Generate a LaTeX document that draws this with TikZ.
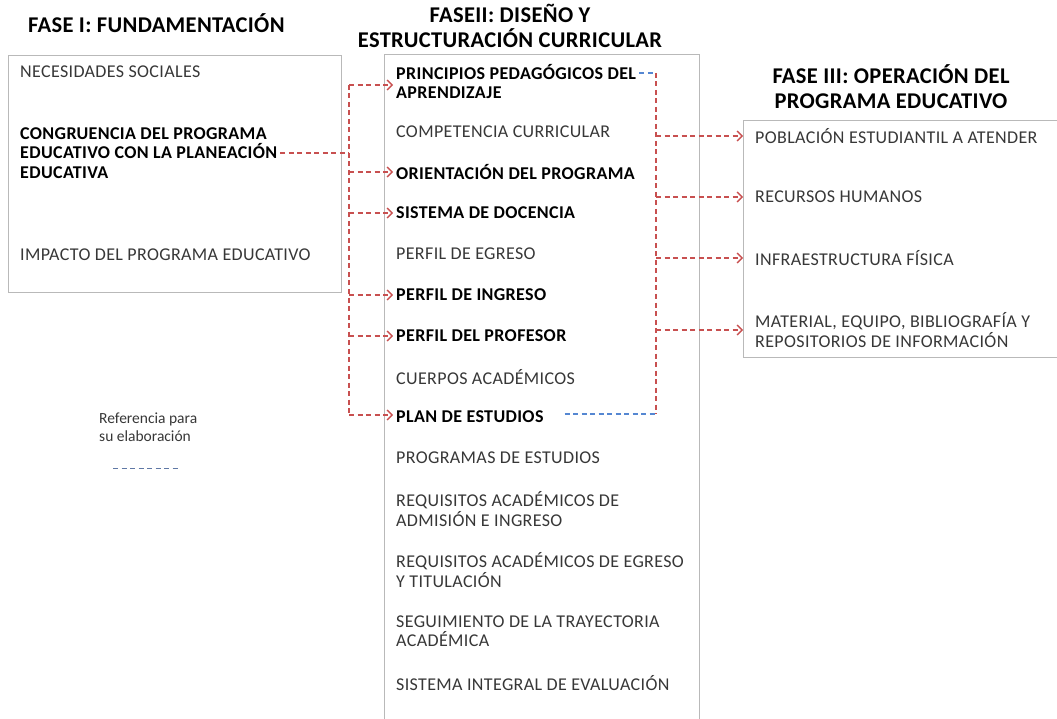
\documentclass[tikz,border=0pt]{standalone}
\usepackage{fontspec}
\setmainfont{Carlito}
\newfontfamily\itemfont[LetterSpace=2]{Carlito}
\newfontfamily\titlefont[LetterSpace=1.5]{Carlito}
\usetikzlibrary{arrows.meta}

\definecolor{linkred}{RGB}{200,80,80}
\definecolor{linkblue}{RGB}{85,135,210}
\definecolor{keyblue}{RGB}{95,120,165}
\definecolor{boxgray}{RGB}{185,185,185}
\definecolor{itemgray}{RGB}{55,55,55}

\begin{document}
\begin{tikzpicture}[x=1pt, y=-1pt,
    fasetitle/.style={font=\titlefont\fontsize{22.5}{25}\selectfont\bfseries, align=center, inner sep=0pt},
    item/.style={anchor=west, align=left, inner sep=3pt, text=itemgray, font=\itemfont\fontsize{18}{19.5}\selectfont},
    itembold/.style={item, text=black, font=\itemfont\fontsize{18}{19.5}\selectfont\bfseries},
    box/.style={draw=boxgray, line width=0.9pt, inner sep=0pt},
    redlink/.style={draw=linkred, line width=1.3pt, dash pattern=on 5pt off 3.5pt},
    redarrow/.style={redlink, -{Straight Barb[length=5pt, width=10pt]}},
    bluelink/.style={draw=linkblue, line width=1.3pt, dash pattern=on 5pt off 3.5pt}]
  \useasboundingbox (0,0) rectangle (1057,719);

  % titles
  \node[fasetitle, anchor=west] (fase1) at (28,23) {FASE I: FUNDAMENTACIÓN};
  \node[fasetitle] (fase2) at (510,26) {FASEII: DISEÑO Y\\ESTRUCTURACIÓN CURRICULAR};
  \node[fasetitle] (fase3) at (891,87) {FASE III: OPERACIÓN DEL\\PROGRAMA EDUCATIVO};

  % boxes
  \node[box, anchor=north west, minimum width=333pt, minimum height=237pt] (lbox) at (8,55) {};
  \draw[box] (384,719) |- (699,54) -- (699,719);
  \node[box, anchor=north west, minimum width=313.5pt, minimum height=237pt] (rbox) at (743,120) {};

  % fase I
  \node[item] (nec) at (17,72) {NECESIDADES SOCIALES};
  \node[itembold] (cong) at (17,153) {CONGRUENCIA DEL PROGRAMA\\EDUCATIVO CON LA PLANEACIÓN\\EDUCATIVA};
  \node[item] (imp) at (17,255) {IMPACTO DEL PROGRAMA EDUCATIVO};

  % fase II
  \node[itembold] (ppa) at (393,81.5) {PRINCIPIOS PEDAGÓGICOS DEL\\APRENDIZAJE};
  \node[item] (comp) at (393,132) {COMPETENCIA CURRICULAR};
  \node[itembold] (orient) at (393,172) {ORIENTACIÓN DEL PROGRAMA};
  \node[itembold] (sisdoc) at (393,213) {SISTEMA DE DOCENCIA};
  \node[item] (pegr) at (393,254) {PERFIL DE EGRESO};
  \node[itembold] (ping) at (393,295) {PERFIL DE INGRESO};
  \node[itembold] (pprof) at (393,336) {PERFIL DEL PROFESOR};
  \node[item] (cuerp) at (393,377) {CUERPOS ACADÉMICOS};
  \node[itembold] (plan) at (393,417) {PLAN DE ESTUDIOS};
  \node[item] (progs) at (393,458) {PROGRAMAS DE ESTUDIOS};
  \node[item] (reqadm) at (393,509) {REQUISITOS ACADÉMICOS DE\\ADMISIÓN E INGRESO};
  \node[item] (reqegr) at (393,570) {REQUISITOS ACADÉMICOS DE EGRESO\\Y TITULACIÓN};
  \node[item] (seg) at (393,631) {SEGUIMIENTO DE LA TRAYECTORIA\\ACADÉMICA};
  \node[item] (sie) at (393,683) {SISTEMA INTEGRAL DE EVALUACIÓN};

  % fase III
  \node[item] (pob) at (752,136) {POBLACIÓN ESTUDIANTIL A ATENDER};
  \node[item] (rh) at (752,197) {RECURSOS HUMANOS};
  \node[item] (infra) at (752,258) {INFRAESTRUCTURA FÍSICA};
  \node[item] (mat) at (752,330) {MATERIAL, EQUIPO, BIBLIOGRAFÍA Y\\REPOSITORIOS DE INFORMACIÓN};

  % fase I -> fase II
  \coordinate (ltop) at (349,85);
  \coordinate (lbot) at (349,415);
  \draw[redlink] (cong.east) -- (ltop |- cong.east);
  \draw[redlink] (ltop) -- (lbot);
  \draw[redarrow] (ltop) -- (ltop -| ppa.west);
  \draw[redarrow] (ltop |- orient) -- (orient.west);
  \draw[redarrow] (ltop |- sisdoc) -- (sisdoc.west);
  \draw[redarrow] (ltop |- ping) -- (ping.west);
  \draw[redarrow] (ltop |- pprof) -- (pprof.west);
  \draw[redarrow] (lbot) -- (lbot -| plan.west);

  % fase II -> fase III
  \coordinate (rtop) at (656,73);
  \coordinate (rbot) at (656,414);
  \draw[bluelink] (rtop -| ppa.east) -- (rtop);
  \draw[bluelink] ([xshift=18pt]rbot -| plan.east) -- (rbot);
  \draw[redlink] (rtop) -- (rbot);
  \draw[redarrow] (rtop |- pob) -- (rbox.west |- pob);
  \draw[redarrow] (rtop |- rh) -- (rbox.west |- rh);
  \draw[redarrow] (rtop |- infra) -- (rbox.west |- infra);
  \draw[redarrow] (rtop |- mat) -- (rbox.west |- mat);

  % key
  \node[anchor=north west, align=left, inner sep=0pt, text=itemgray, font=\fontsize{15.5}{18}\selectfont] (ref) at (99,413) {Referencia para\\su elaboración};
  \coordinate (keyA) at (113,468);
  \coordinate (keyB) at (180,468);
  \draw[draw=keyblue, line width=1pt, dash pattern=on 5pt off 3.5pt] (keyA) -- (keyB);
\end{tikzpicture}
\end{document}
